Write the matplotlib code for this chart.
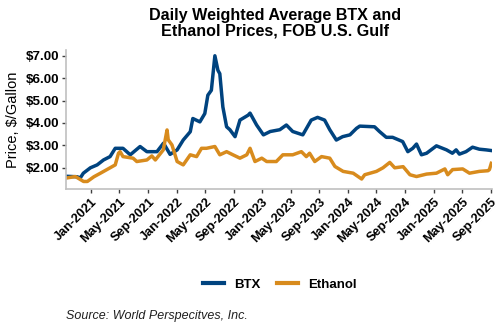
import pandas as pd
import matplotlib
matplotlib.use("Agg")
import matplotlib.pyplot as plt
import matplotlib.dates as mdates
from matplotlib.lines import Line2D

btx_dates = [
    "2020-09-20", "2020-11-01", "2020-11-15", "2020-11-28", "2020-12-28",
    "2021-01-26", "2021-02-22", "2021-03-22", "2021-04-13", "2021-05-16",
    "2021-06-16", "2021-07-28", "2021-08-26", "2021-10-08", "2021-11-05",
    "2021-12-03", "2022-01-02", "2022-01-28", "2022-02-27", "2022-03-10",
    "2022-04-09", "2022-04-30", "2022-05-13", "2022-05-28", "2022-06-12",
    "2022-06-25", "2022-07-03", "2022-07-16", "2022-08-01", "2022-08-15",
    "2022-09-06", "2022-09-27", "2022-11-01", "2022-11-09", "2022-12-07",
    "2023-01-05", "2023-02-03", "2023-03-16", "2023-04-13", "2023-05-10",
    "2023-06-22", "2023-07-28", "2023-08-24", "2023-09-23", "2023-10-15",
    "2023-11-12", "2023-12-09", "2024-01-09", "2024-02-06", "2024-02-20",
    "2024-04-23", "2024-05-14", "2024-06-12", "2024-07-09", "2024-08-21",
    "2024-09-12", "2024-10-03", "2024-10-19", "2024-11-09", "2024-12-01",
    "2025-01-12", "2025-02-24", "2025-03-21", "2025-04-06", "2025-04-20",
    "2025-05-18", "2025-06-15", "2025-07-14", "2025-08-12", "2025-09-03",
]
btx_prices = [
    1.62, 1.60, 1.55, 1.76, 2.00,
    2.13, 2.35, 2.50, 2.87, 2.87,
    2.58, 2.95, 2.72, 2.72, 3.10,
    2.60, 2.80, 3.24, 3.61, 4.20,
    4.05, 4.42, 5.24, 5.46, 7.00,
    6.35, 6.20, 4.72, 3.83, 3.70,
    3.39, 4.13, 4.35, 4.44, 3.91,
    3.47, 3.62, 3.70, 3.91, 3.62,
    3.47, 4.13, 4.25, 4.13, 3.70,
    3.24, 3.39, 3.47, 3.76, 3.86,
    3.83, 3.62, 3.36, 3.36, 3.17,
    2.72, 2.87, 3.06, 2.58, 2.65,
    2.98, 2.80, 2.65, 2.80, 2.61,
    2.72, 2.92, 2.83, 2.80, 2.77,
]

eth_dates = [
    "2020-09-20", "2020-10-25", "2020-11-29", "2020-12-15", "2021-01-12",
    "2021-02-09", "2021-03-22", "2021-04-13", "2021-04-27", "2021-05-04",
    "2021-05-16", "2021-06-28", "2021-07-14", "2021-08-26", "2021-09-16",
    "2021-10-01", "2021-11-04", "2021-11-20", "2021-11-25", "2021-12-11",
    "2022-01-02", "2022-01-28", "2022-02-27", "2022-03-26", "2022-04-16",
    "2022-05-07", "2022-06-12", "2022-07-03", "2022-08-01", "2022-08-28",
    "2022-09-27", "2022-10-26", "2022-11-09", "2022-11-30", "2022-12-29",
    "2023-01-19", "2023-03-01", "2023-03-29", "2023-05-10", "2023-06-16",
    "2023-07-07", "2023-07-21", "2023-08-12", "2023-09-10", "2023-10-15",
    "2023-11-06", "2023-12-11", "2024-01-23", "2024-02-28", "2024-03-12",
    "2024-05-01", "2024-05-29", "2024-06-27", "2024-07-18", "2024-08-23",
    "2024-09-21", "2024-10-19", "2024-12-01", "2025-01-12", "2025-02-17",
    "2025-03-01", "2025-03-22", "2025-05-04", "2025-06-02", "2025-07-14",
    "2025-08-20", "2025-08-26", "2025-09-03",
]
eth_prices = [
    1.55, 1.61, 1.39, 1.39, 1.60,
    1.76, 2.00, 2.13, 2.65, 2.72,
    2.50, 2.43, 2.28, 2.35, 2.53,
    2.35, 2.80, 3.69, 3.25, 3.02,
    2.28, 2.13, 2.58, 2.50, 2.87,
    2.87, 2.95, 2.58, 2.72, 2.58,
    2.43, 2.58, 2.87, 2.28, 2.43,
    2.28, 2.28, 2.58, 2.58, 2.72,
    2.50, 2.65, 2.28, 2.50, 2.43,
    2.06, 1.84, 1.76, 1.50, 1.69,
    1.84, 2.00, 2.24, 2.00, 2.05,
    1.69, 1.61, 1.72, 1.76, 1.95,
    1.69, 1.92, 1.95, 1.76, 1.84,
    1.87, 1.92, 2.20,
]

y_ticks = [2, 3, 4, 5, 6, 7]

blue = "#00437f"
orange = "#d88b1d"
font = "Liberation Sans"

fig = plt.figure(figsize=(5, 3.3), dpi=100)
ax = fig.add_axes([0.132, 0.427, 0.852, 0.421])

ax.plot(pd.to_datetime(btx_dates), btx_prices, color=blue, lw=2.5)
ax.plot(pd.to_datetime(eth_dates), eth_prices, color=orange, lw=2.5)

ax.set_xlim(pd.Timestamp("2020-09-15"), pd.Timestamp("2025-09-06"))
ax.set_ylim(1.05, 7.25)

ax.xaxis.set_major_locator(mdates.MonthLocator(bymonth=[1, 5, 9]))
ax.xaxis.set_major_formatter(mdates.DateFormatter("%b-%Y"))
ticks = [t for t in ax.get_xticks() if t >= mdates.date2num(pd.Timestamp("2021-01-01"))]
ax.set_xticks(ticks)
ax.set_yticks(y_ticks)
ax.set_yticklabels([f"${v:.2f}" for v in y_ticks])

for lab in ax.get_xticklabels():
    lab.set_rotation(45)
    lab.set_ha("right")
    lab.set_rotation_mode("anchor")
    lab.set_fontweight("bold")
    lab.set_fontsize(9.2)
    lab.set_family(font)
for lab in ax.get_yticklabels():
    lab.set_fontweight("bold")
    lab.set_fontsize(9.6)
    lab.set_family(font)

ax.tick_params(axis="x", length=3, width=1, color="#404040", pad=2)
ax.tick_params(axis="y", length=3, width=1, color="#404040", pad=2)

for s in ["top", "right"]:
    ax.spines[s].set_visible(False)
for s in ["left", "bottom"]:
    ax.spines[s].set_color("#c0c0c0")
    ax.spines[s].set_linewidth(1.2)

ax.set_ylabel("Price, $/Gallon", fontsize=10.5, family=font, labelpad=4)

fig.text(0.55, 0.975, "Daily Weighted Average BTX and\nEthanol Prices, FOB U.S. Gulf",
         ha="center", va="top", fontsize=11.6, fontweight="bold", family=font,
         linespacing=1.05)

handles = [Line2D([], [], color=blue, lw=3), Line2D([], [], color=orange, lw=3)]
leg = fig.legend(handles, ["BTX", "Ethanol"], loc="center", bbox_to_anchor=(0.56, 0.138),
                 ncol=2, frameon=False, handlelength=1.6, columnspacing=1.2,
                 prop={"family": font, "weight": "bold", "size": 9.5})

fig.text(0.132, 0.042, "Source: World Perspecitves, Inc.", ha="left", va="center",
         fontsize=9, style="italic", family=font, color="#202020")

fig.savefig("out.png", dpi=100)
